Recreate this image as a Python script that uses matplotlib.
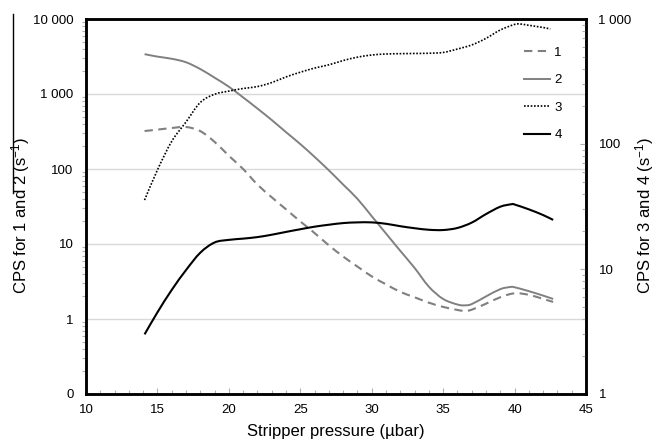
import matplotlib
matplotlib.use("Agg")
import matplotlib.pyplot as plt
from matplotlib.ticker import FixedLocator, FixedFormatter, MultipleLocator, NullFormatter
from matplotlib.lines import Line2D
from matplotlib.path import Path
from matplotlib.patches import PathPatch
import numpy as np

plt.rcParams['font.family'] = ['Liberation Sans', 'DejaVu Sans']
plt.rcParams['mathtext.fontset'] = 'custom'
plt.rcParams['mathtext.rm'] = 'Liberation Sans'
plt.rcParams['mathtext.default'] = 'regular'

# ---- data ----
x_1 = [14.1, 15, 16, 17, 18, 19, 20, 21, 22, 23, 24, 25, 26, 27, 28, 29, 30, 31, 32, 33,
       34, 35, 36, 36.5, 37, 38, 39, 40, 41, 42, 42.7]
cps_1 = [321, 335, 352, 363, 320, 230, 150, 100, 62, 42, 29, 20, 14, 9.6, 6.8, 5.0, 3.7, 2.9,
         2.3, 1.95, 1.65, 1.45, 1.32, 1.28, 1.33, 1.6, 1.95, 2.2, 2.1, 1.85, 1.69]

x_2 = [14.1, 15, 16, 17, 18, 19, 20, 21, 22, 23, 24, 25, 26, 27, 28, 29, 30, 31, 32, 33,
       34, 35, 36, 36.5, 37, 38, 39, 39.7, 40, 41, 42, 42.7]
cps_2 = [3400, 3150, 2950, 2650, 2150, 1650, 1250, 900, 640, 450, 310, 215, 145, 96, 62, 40,
         23.5, 13.8, 8.1, 4.8, 2.7, 1.85, 1.56, 1.52, 1.58, 2.0, 2.5, 2.67, 2.65, 2.35, 2.05, 1.85]

x_3 = [14.1, 15, 16, 17, 18, 19, 20, 21, 22, 23, 24, 25, 26, 27, 28, 29, 30, 31, 32, 33,
       34, 35, 36, 37, 38, 39, 40, 40.4, 41, 42, 42.5]
cps_3 = [35.6, 62, 105, 150, 215, 250, 265, 278, 288, 310, 344, 375, 405, 430, 465, 495, 515,
         525, 528, 530, 532, 540, 575, 620, 700, 817, 905, 912, 890, 855, 832]

x_4 = [14.1, 15, 16, 17, 18, 19, 20, 21, 22, 23, 24, 25, 26, 27, 28, 29, 30, 31, 32, 33,
       34, 35, 36, 37, 38, 39, 39.8, 40, 41, 42, 42.7]
cps_4 = [3.0, 4.5, 6.8, 9.8, 13.5, 16.3, 17.1, 17.5, 18.0, 18.8, 19.8, 20.8, 21.8, 22.6, 23.3,
         23.6, 23.6, 23.0, 22.0, 21.2, 20.6, 20.5, 21.3, 23.5, 27.5, 31.5, 33.0, 32.8, 30.0, 27.0, 24.7]

series_labels = ['1', '2', '3', '4']

left_ticks = [0.1, 1, 10, 100, 1000, 10000]
left_tick_labels = ['0', '1', '10', '100', '1 000', '10 000']
right_ticks = [1, 10, 100, 1000]
right_tick_labels = ['1', '10', '100', '1 000']
x_ticks = [10, 15, 20, 25, 30, 35, 40, 45]


def smooth_path(xs, ys):
    """Smoothed line (Catmull-Rom style Bezier) through the read points, in log-y space."""
    xs = np.asarray(xs, float)
    ly = np.log10(np.asarray(ys, float))
    n = len(xs)
    verts = [(xs[0], ly[0])]
    codes = [Path.MOVETO]
    for i in range(n - 1):
        p0 = np.array([xs[max(i - 1, 0)], ly[max(i - 1, 0)]])
        p1 = np.array([xs[i], ly[i]])
        p2 = np.array([xs[i + 1], ly[i + 1]])
        p3 = np.array([xs[min(i + 2, n - 1)], ly[min(i + 2, n - 1)]])
        c1 = p1 + (p2 - p0) / 6.0
        c2 = p2 - (p3 - p1) / 6.0
        verts += [tuple(c1), tuple(c2), tuple(p2)]
        codes += [Path.CURVE4] * 3
    verts = [(vx, 10 ** vy) for vx, vy in verts]
    return Path(verts, codes)


# ---- figure ----
fig = plt.figure(figsize=(6.56, 4.46), dpi=100)
ax = fig.add_axes([86/656, 1-394/446, 500/656, 375/446])
ax2 = ax.twinx()

ax.set_yscale('log')
ax.set_ylim(0.1, 10000)
ax2.set_yscale('log')
ax2.set_ylim(1, 1000)
ax.set_xlim(10, 45)

gray = '#808080'
styles = [
    (ax, x_1, cps_1, dict(color=gray, lw=1.5, linestyle=(0, (4, 2.6)))),
    (ax, x_2, cps_2, dict(color=gray, lw=1.4, linestyle='-')),
    (ax2, x_3, cps_3, dict(color='black', lw=1.2, linestyle=(0, (1, 1)))),
    (ax2, x_4, cps_4, dict(color='black', lw=1.5, linestyle='-')),
]
handles = []
for (a, xs, ys, st), lab in zip(styles, series_labels):
    patch = PathPatch(smooth_path(xs, ys), fill=False, edgecolor=st['color'],
                      lw=st['lw'], linestyle=st['linestyle'], transform=a.transData,
                      capstyle='butt', joinstyle='round')
    a.add_patch(patch)
    handles.append(Line2D([], [], color=st['color'], lw=st['lw'], linestyle=st['linestyle'], label=lab))

ax.yaxis.set_major_locator(FixedLocator(left_ticks))
ax.yaxis.set_major_formatter(FixedFormatter(left_tick_labels))
ax.yaxis.set_minor_formatter(NullFormatter())
ax2.yaxis.set_major_locator(FixedLocator(right_ticks))
ax2.yaxis.set_major_formatter(FixedFormatter(right_tick_labels))
ax2.yaxis.set_minor_formatter(NullFormatter())
ax.xaxis.set_major_locator(FixedLocator(x_ticks))
ax.xaxis.set_minor_locator(MultipleLocator(1))

for a in (ax, ax2):
    for s in a.spines.values():
        s.set_linewidth(1.8)
        s.set_color('black')

ax.grid(True, axis='y', which='major', color='#d9d9d9', lw=1)
ax.set_axisbelow(True)

ax.tick_params(axis='y', which='major', length=0, pad=9, labelsize=9.5)
ax.tick_params(axis='y', which='minor', direction='out', length=3, color='#b0b0b0', width=0.8)
ax2.tick_params(axis='y', which='major', direction='in', length=4, pad=9, labelsize=9.5, color='#b0b0b0')
ax2.tick_params(axis='y', which='minor', direction='in', length=3, color='#b0b0b0', width=0.8)
ax.tick_params(axis='x', which='major', direction='in', length=4, pad=7, labelsize=9.5, color='#b0b0b0')
ax.tick_params(axis='x', which='minor', direction='in', length=3, color='#b0b0b0', width=0.8)

ax.set_xlabel('Stripper pressure (µbar)', fontsize=12, labelpad=6)
fig.text(21/656, 1-215/446, 'CPS for 1 and 2 (s$^{-1}$)', rotation=90, ha='center', va='center', fontsize=12)
fig.text(645/656, 1-215/446, 'CPS for 3 and 4 (s$^{-1}$)', rotation=90, ha='center', va='center', fontsize=12)

# artifact vertical line at the top-left of the reference
fig.add_artist(Line2D([13/656, 13/656], [1-14/446, 1-193/446], color='black', lw=1))

leg = ax2.legend(handles=handles, loc='upper right', frameon=False,
                 bbox_to_anchor=(0.962, 0.94), fontsize=9.5, handlelength=2.0,
                 handletextpad=0.3, labelspacing=1.15, borderaxespad=0)

fig.savefig('out.png', dpi=100)
